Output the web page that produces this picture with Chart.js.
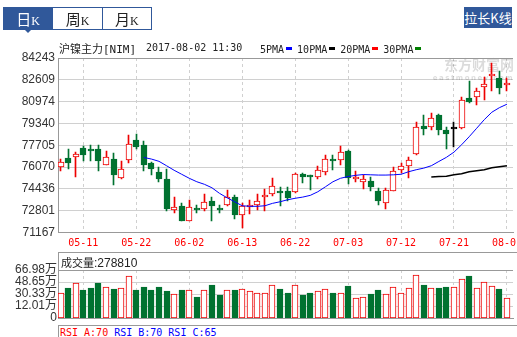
<!DOCTYPE html>
<html lang="zh-CN">
<head>
<meta charset="utf-8">
<title>沪镍主力 日K</title>
<script src="https://cdn.jsdelivr.net/npm/chart.js@4.4.1/dist/chart.umd.min.js"></script>
<style>
  html, body { margin: 0; padding: 0; background: #fff; }
  body { position: relative; width: 517px; height: 337px; overflow: hidden;
         font-family: "Liberation Sans", "Noto Sans CJK SC", sans-serif; color: #222; }
  canvas { position: absolute; left: 0; }
  #priceChart { top: 0; }
  #volChart { top: 252px; }
  .mono { font-family: "DejaVu Sans Mono", monospace; font-size: 10px; }
  .cn { font-family: "Noto Sans CJK SC", sans-serif; }
  .tabs { position: absolute; left: 3px; top: 7px; width: 147px; height: 21px;
          border: 1px solid #30589a; display: flex; }
  .tab { flex: 1; text-align: center; line-height: 21px; color: #222; }
  .tab + .tab { border-left: 1px solid #30589a; }
  .tab.on { background: #30589a; color: #fff; }
  .tab .cn { font-size: 15px; }
  .tab .k { font-family: "Liberation Serif", serif; font-size: 12px; }
  .caret { position: absolute; left: 25px; top: 30px; width: 0; height: 0;
           border-left: 3px solid transparent; border-right: 3px solid transparent;
           border-top: 3px solid #30589a; }
  .btn { position: absolute; left: 464px; top: 7px; width: 48px; height: 21px;
         background: #30589a; color: #fff; font-size: 13px; line-height: 21px; text-align: center; }
  .line { position: absolute; height: 13px; line-height: 13px; white-space: nowrap; }
  #name { left: 59px; top: 41px; }
  #name .cn { font-size: 11px; }
  #name .mono { font-size: 11px; }
  #stamp { left: 146px; top: 41px; }
  #legend { left: 260px; top: 41px; }
  #legend i { display: inline-block; width: 6px; height: 3px; margin: 0 5px 0 2px; vertical-align: middle; }
  .box { position: absolute; left: 58px; width: 459px; border-top: 1px solid #999; border-left: 1px solid #999; }
  #volHead { top: 252px; height: 18px; line-height: 18px; font-size: 12px; padding-left: 2px; box-sizing: border-box; }
  #volHead .cn { font-size: 11px; }
  #rsi { top: 325px; height: 12px; line-height: 13px; padding-left: 1px; box-sizing: border-box; }
  #rsi span { margin-right: 6px; }
</style>
</head>
<body>
<canvas id="priceChart" width="517" height="252"></canvas>
<canvas id="volChart" width="517" height="72"></canvas>

<div class="tabs">
  <div class="tab on"><span class="cn">日</span><span class="k">K</span></div>
  <div class="tab"><span class="cn">周</span><span class="k">K</span></div>
  <div class="tab"><span class="cn">月</span><span class="k">K</span></div>
</div>
<div class="caret"></div>
<div class="btn cn">拉长K线</div>

<div id="name" class="line"><span class="cn">沪镍主力</span><span class="mono">[NIM]</span></div>
<div id="stamp" class="line mono">2017-08-02 11:30</div>
<div id="legend" class="line"></div>

<div id="volHead" class="box"></div>
<div id="rsi" class="box mono"></div>

<script>
// 交易日
const dates = [
  "05-08","05-09","05-10","05-11","05-12","05-15","05-16","05-17","05-18","05-19",
  "05-22","05-23","05-24","05-25","05-26","05-31","06-01","06-02","06-05","06-06",
  "06-07","06-08","06-09","06-12","06-13","06-14","06-15","06-16","06-19","06-20",
  "06-21","06-22","06-23","06-26","06-27","06-28","06-29","06-30","07-03","07-04",
  "07-05","07-06","07-07","07-10","07-11","07-12","07-13","07-14","07-17","07-18",
  "07-19","07-20","07-21","07-24","07-25","07-26","07-27","07-28","07-31","08-01"
];

const open = [
  76070, 76770, 76820, 77520, 77440, 77440, 76220, 76670, 75240, 76620,
  78120, 77740, 76340, 75720, 75190, 72890, 73140, 72020, 72890, 72920,
  73490, 72890, 73220, 73840, 72470, 73070, 73260, 73820, 74040, 74290,
  74240, 74190, 75570, 75340, 75320, 75690, 76670, 76590, 77290, 75190,
  74940, 75020, 74270, 73370, 74270, 75840, 76140, 77040, 79170, 79110,
  79970, 78840, 78920, 78990, 81240, 81320, 82040, 82880, 82770, 82240
];
const high = [
  76690, 77440, 77220, 77670, 77740, 77760, 77290, 77140, 76540, 78490,
  78570, 77990, 76470, 76070, 75940, 73820, 73410, 73590, 73260, 74070,
  73820, 73220, 74340, 74000, 73410, 73590, 74070, 74460, 75240, 74590,
  74570, 75660, 75600, 75490, 76170, 76940, 77010, 77670, 77330, 75810,
  75470, 75320, 74490, 74490, 76070, 76390, 76790, 79470, 79990, 80090,
  80070, 79090, 79440, 81290, 82490, 81990, 82790, 83870, 83290, 82710
];
const low = [
  75740, 75940, 75360, 76560, 76560, 75790, 76200, 74690, 75140, 76370,
  77440, 75740, 75510, 74940, 72790, 72620, 72020, 72020, 72620, 72770,
  72060, 72620, 73170, 72170, 71490, 72540, 72840, 72810, 73890, 73170,
  73520, 74120, 74910, 74370, 75210, 75490, 75840, 76260, 74820, 74940,
  74460, 74240, 73240, 72960, 74240, 75660, 75240, 76970, 78440, 78870,
  78490, 77460, 77570, 78890, 80840, 80690, 81060, 81790, 81540, 81790
];
const close = [
  76440, 76410, 77040, 76940, 77310, 76560, 76820, 75510, 75960, 77790,
  77610, 76260, 75920, 75210, 72960, 73070, 72060, 73070, 72850, 73470,
  73190, 72850, 73820, 72510, 73170, 73240, 73540, 73850, 74640, 74120,
  73770, 75570, 75320, 75300, 75840, 76710, 76560, 77220, 75240, 75230,
  75190, 74610, 73560, 74340, 75790, 76140, 76590, 79070, 78960, 79770,
  78840, 78570, 78920, 81090, 80910, 81790, 82290, 82930, 81960, 82270
];

// 成交量（万手）
const volume = [
  34.2, 41.2, 48.3, 38.4, 41.2, 48.3, 43.6, 39.8, 42.2, 59.1,
  38.4, 42.6, 38.4, 42.6, 37.0, 33.8, 38.4, 39.4, 30.0, 39.4,
  45.4, 31.4, 39.4, 38.4, 40.8, 38.0, 35.2, 35.2, 46.4, 39.8,
  34.6, 46.4, 31.4, 34.6, 37.0, 40.8, 34.6, 35.2, 44.0, 28.1,
  29.5, 32.8, 38.4, 33.8, 43.6, 35.2, 42.2, 60.5, 45.4, 42.2,
  41.2, 42.6, 43.6, 54.9, 58.1, 42.2, 50.7, 45.0, 39.8, 27.881
];

const ma5 = [
  null, null, null, null, null, null, null, null, null, null,
  null, 76790, 76670, 76500, 76170, 75830, 75530, 75230, 74970, 74780,
  74520, 74100, 73770, 73470, 73170, 73130, 73130, 73170, 73350, 73470,
  73620, 73730, 73820, 73950, 74220, 74590, 74970, 75230, 75360, 75450,
  75510, 75490, 75470, 75470, 75490, 75530, 75720, 75870, 75990, 76170,
  76490, 76800, 77190, 77740, 78340, 78980, 79620, 80180, 80520, 80780
];
const ma10 = [
  null, null, null, null, null, null, null, null, null, null,
  null, null, null, null, null, null, null, null, null, null,
  null, null, null, null, null, null, null, null, null, null,
  null, null, null, null, null, null, null, null, null, null,
  null, null, null, null, null, null, null, null, null, 75320,
  75360, 75390, 75490, 75570, 75720, 75790, 75870, 76020, 76090, 76170
];

const yTicks = [71167, 72801, 74436, 76070, 77705, 79340, 80974, 82609, 84243];
const xTickIdx = [3, 10, 17, 24, 31, 38, 45, 52, 59];
const volMax = 66.98;
const volTickLabels = ["0", "12.01万", "30.33万", "48.65万", "66.98万"];

const maNames = ["5PMA", "10PMA", "20PMA", "30PMA"];
const maColors = ["#0000ff", "#000000", "#ff0000", "#007f00"];

const rsiNames = ["RSI A", "RSI B", "RSI C"];
const rsiValues = [70, 70, 65];
const rsiColors = ["#ff0000", "#0000ff", "#0000ff"];

const RED = "#ee0000", GREEN = "#007230", BLACK = "#000000";
const GRID = "#d0d0d0", FRAME = "#999999";

// 头部文字
document.getElementById("legend").innerHTML = maNames
  .map((n, i) => `<span class="mono">${n}</span><i style="background:${maColors[i]}"></i>`).join("");
document.getElementById("volHead").innerHTML =
  `<span class="cn">成交量</span>:${Math.round(volume[volume.length - 1] * 10000)}`;
document.getElementById("rsi").innerHTML = rsiNames
  .map((n, i) => `<span style="color:${rsiColors[i]}">${n}:${rsiValues[i]}</span>`).join("");

const candleColor = close.map((c, i) => c > open[i] ? RED : c < open[i] ? GREEN : BLACK);
const bodyFill = close.map((c, i) => c > open[i] ? "#ffffff" : candleColor[i]);
const volUp = close.map((c, i) => c >= open[i]);

// 柱子对齐到整像素，避免发虚
const snapBars = {
  id: "snapBars",
  afterDatasetsUpdate(chart) {
    chart.data.datasets.forEach((ds, k) => {
      const meta = chart.getDatasetMeta(k);
      if (meta.type !== "bar") return;
      meta.data.forEach(bar => {
        const w = bar.width;
        bar.x = Math.round(bar.x - w / 2) + w / 2;
        bar.y = Math.round(bar.y);
        bar.base = Math.round(bar.base);
      });
    });
  }
};

const topFrame = {
  id: "topFrame",
  afterDraw(chart) {
    const { ctx, chartArea: a } = chart;
    ctx.save();
    ctx.strokeStyle = FRAME;
    ctx.lineWidth = 1;
    ctx.beginPath();
    ctx.moveTo(a.left, Math.round(a.top) + 0.5);
    ctx.lineTo(a.right, Math.round(a.top) + 0.5);
    ctx.stroke();
    ctx.restore();
  }
};

const watermark = {
  id: "watermark",
  beforeDatasetsDraw(chart) {
    const { ctx, chartArea: a } = chart;
    ctx.save();
    ctx.fillStyle = "rgba(0,0,0,0.14)";
    ctx.textAlign = "right";
    ctx.textBaseline = "middle";
    ctx.font = "bold 14px 'Noto Sans CJK SC'";
    ctx.fillText("东方财富网", a.right + 1, a.top + 7);
    ctx.font = "bold 7px 'DejaVu Sans'";
    ctx.letterSpacing = "1.5px";
    ctx.fillText("eastmoney.com", a.right + 1, a.top + 20);
    ctx.restore();
  }
};

const xAxis = (labels) => ({
  type: "linear",
  offset: false,
  min: -0.35,
  max: 59.8,
  afterBuildTicks: s => { s.ticks = xTickIdx.map(v => ({ value: v })); },
  afterFit: s => { s.height = labels ? 19.5 : 0; s.paddingLeft = 0; s.paddingRight = 0; },
  grid: { color: GRID, drawTicks: false, offset: false },
  border: { color: FRAME, dash: [3, 3] },
  ticks: {
    display: labels,
    autoSkip: false,
    maxRotation: 0,
    padding: 5,
    color: "#ff0000",
    font: { family: "DejaVu Sans Mono", size: 10 },
    callback: v => dates[v]
  }
});

Chart.defaults.animation = false;
Chart.defaults.plugins.legend.display = false;
Chart.defaults.plugins.tooltip.enabled = false;

new Chart(document.getElementById("priceChart"), {
  type: "bar",
  data: {
    datasets: [
      {
        type: "line",
        data: ma5.map((v, i) => ({ x: i, y: v })),
        borderColor: maColors[0],
        borderWidth: 1,
        pointRadius: 0,
        tension: 0,
        order: 0
      },
      {
        type: "line",
        data: ma10.map((v, i) => ({ x: i, y: v })),
        borderColor: maColors[1],
        borderWidth: 1.5,
        pointRadius: 0,
        tension: 0,
        order: 0
      },
      {
        // 实体
        data: open.map((o, i) => ({ x: i, y: [o, close[i]] })),
        backgroundColor: bodyFill,
        borderColor: candleColor,
        borderWidth: 1,
        borderSkipped: false,
        barThickness: 6,
        minBarLength: 2,
        grouped: false,
        order: 1
      },
      {
        // 影线
        data: low.map((l, i) => ({ x: i, y: [l, high[i]] })),
        backgroundColor: candleColor,
        borderWidth: 0,
        barThickness: 1,
        grouped: false,
        order: 2
      }
    ]
  },
  options: {
    responsive: false,
    layout: { padding: { top: 58, right: 4, left: 0, bottom: 0 } },
    scales: {
      x: xAxis(true),
      y: {
        min: yTicks[0],
        max: yTicks[yTicks.length - 1],
        afterBuildTicks: s => { s.ticks = yTicks.map(v => ({ value: v })); },
        afterFit: s => { s.width = 58; s.paddingTop = 0; s.paddingBottom = 0; },
        grid: { color: GRID, drawTicks: false },
        border: { color: FRAME },
        ticks: {
          autoSkip: false,
          padding: 3,
          color: "#333",
          font: { family: "Liberation Sans", size: 12 },
          callback: v => String(v)
        }
      }
    }
  },
  plugins: [snapBars, topFrame, watermark]
});

new Chart(document.getElementById("volChart"), {
  type: "bar",
  data: {
    datasets: [{
      data: volume.map((v, i) => ({ x: i, y: v })),
      backgroundColor: volUp.map(u => u ? "#ffffff" : GREEN),
      borderColor: volUp.map(u => u ? RED : GREEN),
      borderWidth: 1,
      borderSkipped: false,
      barThickness: 6
    }]
  },
  options: {
    responsive: false,
    layout: { padding: { top: 18, right: 4, left: 0, bottom: 6 } },
    scales: {
      x: xAxis(false),
      y: {
        min: 0,
        max: volMax,
        afterBuildTicks: s => { s.ticks = volTickLabels.map((_, k) => ({ value: k * volMax / 4 })); },
        afterFit: s => { s.width = 58; s.paddingTop = 0; s.paddingBottom = 0; },
        grid: { color: c => c.index === volTickLabels.length - 1 ? FRAME : GRID, drawTicks: false },
        border: { color: FRAME },
        ticks: {
          autoSkip: false,
          padding: 1,
          color: "#333",
          font: { family: "Liberation Sans", size: 12 },
          callback: (v, k) => volTickLabels[k]
        }
      }
    }
  },
  plugins: [snapBars]
});
</script>
</body>
</html>
